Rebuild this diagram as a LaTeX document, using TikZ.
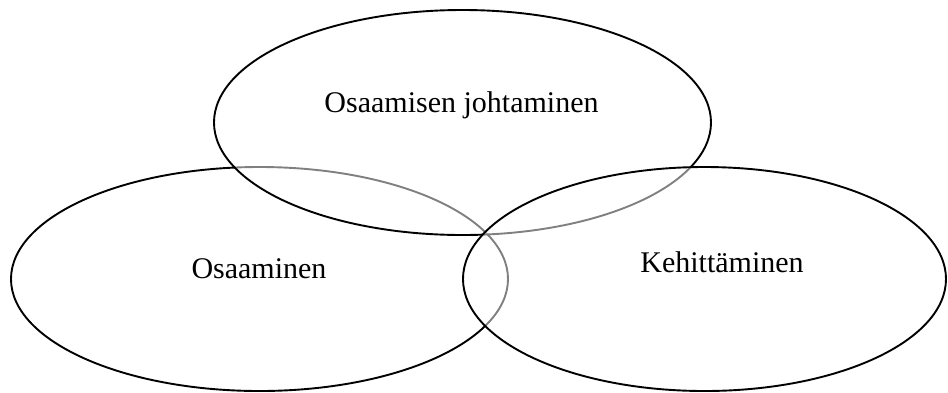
\documentclass[tikz,border=0pt]{standalone}
\usepackage{fontspec}
\setmainfont{Liberation Serif}
\usetikzlibrary{shapes.geometric}
\begin{document}
\begin{tikzpicture}[x=1pt,y=-1pt,
  circ/.style={ellipse, draw=black, line width=1.9pt, fill=white, fill opacity=0.5, draw opacity=1, inner sep=0pt, outer sep=0pt},
  lbl/.style={anchor=base, inner sep=0pt, font=\fontsize{30}{36}\selectfont, text=black}]
\useasboundingbox (0,0) rectangle (948,392);
\node[circ, minimum width=497pt, minimum height=224pt] (left) at (259.5,279) {};
\node[circ, minimum width=497pt, minimum height=225pt] (top) at (462.5,122.5) {};
\node[circ, minimum width=483pt, minimum height=224pt] (right) at (704.5,279) {};
\node[lbl] (ttop) at (461.5,112) {Osaamisen johtaminen};
\node[lbl] (tleft) at (259,278) {Osaaminen};
\node[lbl] (tright) at (722,272) {Kehittäminen};
\end{tikzpicture}
\end{document}
